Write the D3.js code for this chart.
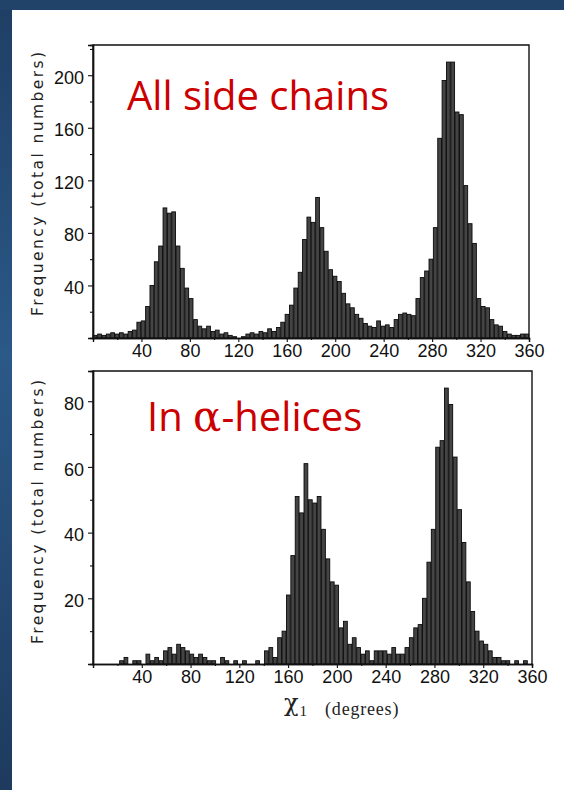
<!DOCTYPE html>
<html>
<head>
<meta charset="utf-8">
<script src="https://cdn.jsdelivr.net/npm/d3@7"></script>
<style>
  html, body { margin: 0; padding: 0; background: #fff; }
  svg { display: block; }
</style>
</head>
<body>
<svg id="fig" width="564" height="790"></svg>
<script>
// Side-chain chi1 torsion histograms, 3.6 degree bins from 0 to 360
const binWidth = 3.6;

// All side chains (counts per bin)
const allSideChains = [
  2, 3, 2, 3, 4, 3, 4, 3, 5, 6,
  12, 13, 24, 40, 58, 70, 99, 95, 96, 70,
  53, 38, 30, 14, 9, 7, 9, 5, 6, 3,
  4, 2, 1, 0, 1, 3, 4, 3, 5, 4,
  7, 5, 8, 12, 18, 25, 38, 50, 75, 92,
  88, 107, 84, 66, 52, 47, 43, 34, 26, 23,
  18, 15, 11, 9, 8, 13, 9, 10, 8, 14,
  18, 19, 18, 17, 30, 46, 51, 60, 84, 152,
  196, 210, 210, 172, 170, 116, 87, 72, 30, 24,
  23, 14, 10, 9, 5, 3, 2, 2, 3, 3
];

// Residues in alpha-helices (counts per bin)
const alphaHelices = [
  0, 0, 0, 0, 0, 0, 1, 2, 0, 1,
  1, 0, 3, 1, 2, 1, 4, 5, 3, 6,
  5, 4, 3, 2, 3, 2, 1, 1, 0, 2,
  1, 0, 1, 0, 1, 0, 0, 1, 0, 4,
  5, 2, 8, 10, 21, 33, 51, 46, 61, 50,
  49, 51, 41, 32, 25, 24, 11, 13, 6, 8,
  5, 3, 4, 1, 4, 4, 4, 3, 5, 3,
  3, 5, 8, 11, 12, 20, 31, 41, 66, 68,
  84, 79, 63, 47, 37, 25, 16, 10, 7, 6,
  4, 2, 2, 1, 1, 0, 1, 0, 1, 0
];

// Axis ticks
const xTickLabels = [40, 80, 120, 160, 200, 240, 280, 320, 360];
const xMinorTicks = [20, 60, 100, 140, 180, 220, 260, 300, 340];
const yTicksAll = [40, 80, 120, 160, 200];
const yMinorAll = [20, 60, 100, 140, 180, 220];
const yTicksHelix = [20, 40, 60, 80];
const yMinorHelix = [10, 30, 50, 70];

const titles = ["All side chains", "In α-helices"];
const yAxisTitle = "Frequency (total numbers)";

const svg = d3.select("#fig");

// Slide backdrop: white page with a blue band along the top and left edges
const defs = svg.append("defs");
const grad = defs.append("linearGradient")
  .attr("id", "band").attr("x1", 0).attr("y1", 0).attr("x2", 0).attr("y2", 1);
grad.append("stop").attr("offset", "0%").attr("stop-color", "#1f3e64");
grad.append("stop").attr("offset", "45%").attr("stop-color", "#2b5988");
grad.append("stop").attr("offset", "100%").attr("stop-color", "#1e3a5e");

svg.append("rect").attr("width", 564).attr("height", 790).attr("fill", "#fff");
svg.append("rect").attr("x", 0).attr("y", 0).attr("width", 12).attr("height", 790).attr("fill", "url(#band)");
svg.append("rect").attr("x", 0).attr("y", 0).attr("width", 564).attr("height", 10).attr("fill", "#21436a");

const panels = [
  { values: allSideChains, left: 93, right: 529, top: 45, base: 338, yMax: 223,
    major: yTicksAll, minor: yMinorAll, title: titles[0], titleX: 127, titleY: 110, labelY: 184 },
  { values: alphaHelices, left: 93, right: 532, top: 371, base: 664, yMax: 89.2,
    major: yTicksHelix, minor: yMinorHelix, title: titles[1], titleX: 147, titleY: 431, labelY: 512 }
];

panels.forEach(p => {
  const x = d3.scaleLinear().domain([0, 360]).range([p.left, p.right]);
  const y = d3.scaleLinear().domain([0, p.yMax]).range([p.base, p.top]);
  const g = svg.append("g");

  // Histogram bars
  g.append("g").selectAll("rect")
    .data(p.values)
    .join("rect")
    .attr("x", (d, i) => x(i * binWidth) + 0.3)
    .attr("width", x(binWidth) - x(0) - 0.6)
    .attr("y", d => y(d))
    .attr("height", d => y(0) - y(d))
    .attr("fill", "#444")
    .attr("stroke", "#0a0a0a")
    .attr("stroke-width", 0.9);

  // Frame: left, top, right sides
  g.append("path")
    .attr("d", `M${x(0)},${y(0)}V${p.top}H${x(360)}V${y(0)}`)
    .attr("fill", "none").attr("stroke", "#111").attr("stroke-width", 1.4);

  // Left axis
  const yAxis = g.append("g").attr("transform", `translate(${x(0)},0)`)
    .call(d3.axisLeft(y).tickValues(p.major).tickSize(5).tickPadding(4));
  const yMinor = g.append("g").attr("transform", `translate(${x(0)},0)`)
    .call(d3.axisLeft(y).tickValues(p.minor).tickSize(3).tickFormat(""));

  // Bottom axis
  const xAxis = g.append("g").attr("transform", `translate(0,${y(0)})`)
    .call(d3.axisBottom(x).tickValues(xTickLabels).tickSize(4).tickPadding(2));
  const xMinor = g.append("g").attr("transform", `translate(0,${y(0)})`)
    .call(d3.axisBottom(x).tickValues(xMinorTicks).tickSize(2).tickFormat(""));

  [yAxis, yMinor, xAxis, xMinor].forEach(a => {
    a.select(".domain").attr("stroke", "#111").attr("stroke-width", 1.4);
    a.selectAll(".tick line").attr("stroke", "#111").attr("stroke-width", 1.1);
    a.selectAll("text")
      .attr("fill", "#111")
      .style("font-family", "'Liberation Sans', Arial, sans-serif")
      .style("font-size", "18px");
  });
  yAxis.selectAll("text").attr("dy", "0.45em");

  // Axis title on the left
  svg.append("text")
    .attr("transform", `translate(43,${p.labelY}) rotate(-90)`)
    .attr("text-anchor", "middle")
    .attr("textLength", 264)
    .attr("lengthAdjust", "spacing")
    .style("font-family", "'DejaVu Sans', sans-serif")
    .style("font-size", "15.5px")
    .attr("fill", "#222")
    .text(yAxisTitle);

  // Panel title in red
  const t = svg.append("text")
    .attr("x", p.titleX).attr("y", p.titleY)
    .attr("fill", "#cc0000")
    .style("font-family", "'Open Sans', sans-serif")
    .style("font-size", "40px");
  if (p.title.includes("α")) {
    const parts = p.title.split("α");
    t.append("tspan").text(parts[0]);
    t.append("tspan").style("font-family", "'DejaVu Serif', serif").style("font-size", "42px").text("α");
    t.append("tspan").text(parts[1]);
  } else {
    t.text(p.title);
  }
});

// Shared x-axis title: chi-1 (degrees)
const xt = svg.append("text")
  .attr("x", 284).attr("y", 711)
  .attr("fill", "#222")
  .style("font-family", "'Liberation Serif', 'Times New Roman', serif");
xt.append("tspan").style("font-family", "'DejaVu Serif', serif").style("font-size", "24px").text("χ");
xt.append("tspan").style("font-size", "15px").attr("dy", 5).attr("dx", 1).text("1");
xt.append("tspan").style("font-size", "18px").attr("dx", 18).attr("dy", -1)
  .style("letter-spacing", "0.8px").text("(degrees)");
</script>
</body>
</html>
